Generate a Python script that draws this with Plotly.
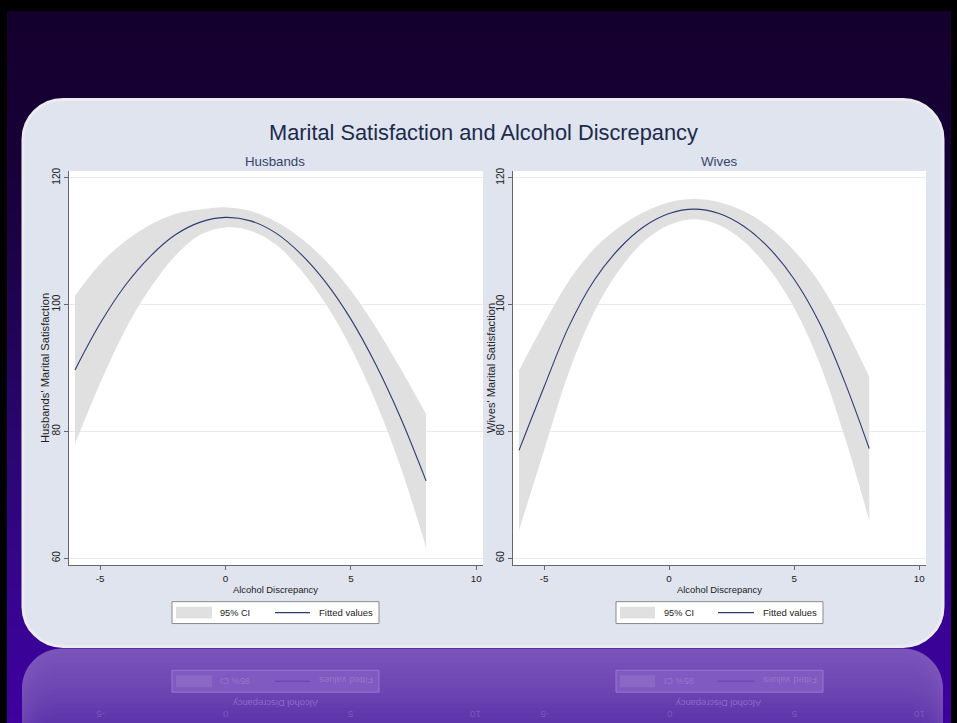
import plotly.graph_objects as go

W, H = 957, 723

# ---------------- data ----------------
x_disc = [-6, -5, -4, -3, -2, -1, 0, 1, 2, 3, 4, 5, 6, 7, 8]

husbands_fit = [89.7, 97.0, 103.0, 107.6, 111.0, 113.0, 113.75, 113.2, 111.3, 108.0, 103.5, 97.7, 90.5, 82.0, 72.2]
husbands_upper = [101.4, 106.4, 110.0, 112.6, 114.3, 115.0, 115.35, 114.75, 113.1, 110.5, 106.9, 102.2, 96.4, 89.8, 82.7]
husbands_lower = [78.0, 87.6, 96.0, 102.6, 107.7, 111.0, 112.15, 111.65, 109.5, 105.5, 100.1, 93.2, 84.6, 74.2, 61.7]

wives_fit = [77.0, 87.0, 96.6, 103.8, 108.8, 112.3, 114.35, 115.05, 114.35, 112.3, 108.9, 104.0, 97.2, 88.0, 77.3]
wives_upper = [89.6, 97.0, 103.8, 108.8, 112.2, 114.6, 116.15, 116.65, 116.15, 114.7, 112.2, 108.5, 103.5, 96.6, 88.6]
wives_lower = [64.4, 77.0, 89.4, 98.8, 105.4, 110.0, 112.55, 113.45, 112.55, 109.9, 105.6, 99.5, 90.9, 79.4, 66.0]

y_ticks = [60, 80, 100, 120]
x_ticks = [-5, 0, 5, 10]
x_tick_labels = ["-5", "0", "5", "10"]

main_title = "Marital Satisfaction and Alcohol Discrepancy"
panel_titles = ["Husbands", "Wives"]
y_titles = ["Husbands' Marital Satisfaction", "Wives' Marital Satisfaction"]
x_title = "Alcohol Discrepancy"
legend_labels = ["95% CI", "Fitted values"]

FONT = "Arial, Liberation Sans, sans-serif"
CI_COLOR = "#e0e0e0"
LINE_COLOR = "#2a3d72"


def px(x):
    return x / W


def py(y):
    return 1 - y / H


def rpath(x0, y0, x1, y1, r, bottom=True):
    k = 0.5523 * r

    def P(x, y):
        return f"{px(x):.5f},{py(y):.5f}"

    s = f"M{P(x0 + r, y0)} L{P(x1 - r, y0)} C{P(x1 - r + k, y0)} {P(x1, y0 + r - k)} {P(x1, y0 + r)} "
    if bottom:
        s += f"L{P(x1, y1 - r)} C{P(x1, y1 - r + k)} {P(x1 - r + k, y1)} {P(x1 - r, y1)} "
        s += f"L{P(x0 + r, y1)} C{P(x0 + r - k, y1)} {P(x0, y1 - r + k)} {P(x0, y1 - r)} "
    else:
        s += f"L{P(x1, y1)} L{P(x0, y1)} "
    s += f"L{P(x0, y0 + r)} C{P(x0, y0 + r - k)} {P(x0 + r - k, y0)} {P(x0 + r, y0)} Z"
    return s


def lerp_color(stops, y):
    for (y0, c0), (y1, c1) in zip(stops[:-1], stops[1:]):
        if y0 <= y <= y1:
            t = (y - y0) / (y1 - y0)
            c = [round(a + (b - a) * t) for a, b in zip(c0, c1)]
            return f"rgb({c[0]},{c[1]},{c[2]})"
    c = stops[-1][1]
    return f"rgb({c[0]},{c[1]},{c[2]})"


def note(x, y, text, size, color, angle=0):
    return dict(x=px(x), y=py(y), xref="paper", yref="paper", text=text,
                showarrow=False, xanchor="center", yanchor="middle", textangle=angle,
                font=dict(family=FONT, size=size, color=color))


shapes = []
# background gradient (dark purple slide)
bg_stops = [(0, (20, 0, 46)), (150, (23, 0, 54)), (300, (30, 3, 80)),
            (450, (42, 6, 115)), (600, (55, 4, 145)), (723, (62, 0, 158))]
y = 7
while y < H:
    shapes.append(dict(type="rect", xref="paper", yref="paper", layer="below",
                       x0=px(7), x1=px(951), y0=py(min(y + 11, H + 2)), y1=py(y),
                       fillcolor=lerp_color(bg_stops, y + 5), line=dict(width=0)))
    y += 10

# reflection (stacked rounded-top shapes for a gradient)
ref_stops = [(648, (122, 84, 186)), (690, (108, 68, 178)), (723, (92, 50, 168))]
for yy in range(648, 723, 5):
    shapes.append(dict(type="path", xref="paper", yref="paper", layer="below",
                       path=rpath(22, yy, 943, 735, 40, bottom=False),
                       fillcolor=lerp_color(ref_stops, yy), line=dict(width=0)))

# main rounded panel
shapes.append(dict(type="path", xref="paper", yref="paper", layer="below",
                   path=rpath(23, 96, 943, 646, 40),
                   fillcolor="#dfe4ee", line=dict(color="#ececf0", width=3)))

# white plot regions
for (x0, x1) in [(69, 483), (513, 926)]:
    shapes.append(dict(type="rect", xref="paper", yref="paper", layer="below",
                       x0=px(x0), x1=px(x1), y0=py(564), y1=py(168),
                       fillcolor="white", line=dict(width=0)))

annotations = []

# legends (drawn per panel) and their faint reflections
legend_geom = [
    dict(box=(172, 379), sw=(176, 212), ln=(275, 310), t1=235, t2=346),
    dict(box=(616, 823), sw=(620, 655), ln=(718, 754), t1=679, t2=790),
]
for g in legend_geom:
    shapes.append(dict(type="rect", xref="paper", yref="paper",
                       x0=px(g["box"][0]), x1=px(g["box"][1]), y0=py(623), y1=py(601),
                       fillcolor="white", line=dict(color="#8a8a8a", width=1)))
    shapes.append(dict(type="rect", xref="paper", yref="paper",
                       x0=px(g["sw"][0]), x1=px(g["sw"][1]), y0=py(618), y1=py(606),
                       fillcolor=CI_COLOR, line=dict(width=0)))
    shapes.append(dict(type="line", xref="paper", yref="paper",
                       x0=px(g["ln"][0]), x1=px(g["ln"][1]), y0=py(612), y1=py(612),
                       line=dict(color=LINE_COLOR, width=1.2)))
    annotations.append(note(g["t1"], 612, legend_labels[0], 9.2, "#222222"))
    annotations.append(note(g["t2"], 612, legend_labels[1], 9.5, "#222222"))
    # reflection
    shapes.append(dict(type="rect", xref="paper", yref="paper", layer="below",
                       x0=px(g["box"][0]), x1=px(g["box"][1]), y0=py(692), y1=py(670),
                       fillcolor="rgb(128,90,192)", line=dict(color="rgb(150,120,206)", width=1)))
    shapes.append(dict(type="rect", xref="paper", yref="paper", layer="below",
                       x0=px(g["sw"][0]), x1=px(g["sw"][1]), y0=py(687), y1=py(675),
                       fillcolor="rgb(138,104,198)", line=dict(width=0)))
    shapes.append(dict(type="line", xref="paper", yref="paper", layer="below",
                       x0=px(g["ln"][0]), x1=px(g["ln"][1]), y0=py(681), y1=py(681),
                       line=dict(color="rgb(100,66,170)", width=1.2)))
    annotations.append(note(g["t1"], 681, legend_labels[0], 9.2, "rgb(150,118,205)", 180))
    annotations.append(note(g["t2"], 681, legend_labels[1], 9.5, "rgb(150,118,205)", 180))

# faint reflected axis text
for cx, zero_px in [(275.5, 225.3), (719, 669.3)]:
    annotations.append(note(cx, 704, x_title, 9.4, "rgb(140,108,200)", 180))
    for t, lab in zip(x_ticks, x_tick_labels):
        annotations.append(note(zero_px + t * 25.07, 715, lab, 9.8, "rgb(120,88,190)", 180))

# titles
annotations.append(note(483.5, 129, main_title, 21.8, "#1c2a4c"))
for cx, t in zip([275, 719], panel_titles):
    annotations.append(note(cx, 158, t, 13.3, "#34446a"))
for cx in [275.5, 719]:
    annotations.append(note(cx, 589, x_title, 9.4, "#222222"))
for cx, t in zip([45, 491], y_titles):
    annotations.append(note(cx, 366, t, 11.2, "#222222", -90))

fig = go.Figure()

for i, (fit, up, lo) in enumerate([(husbands_fit, husbands_upper, husbands_lower),
                                    (wives_fit, wives_upper, wives_lower)]):
    xa = "x" if i == 0 else "x2"
    ya = "y" if i == 0 else "y2"
    fig.add_trace(go.Scatter(x=x_disc, y=lo, xaxis=xa, yaxis=ya, mode="lines",
                             line=dict(width=0, shape="spline", smoothing=1.0),
                             showlegend=False, hoverinfo="skip", name=legend_labels[0]))
    fig.add_trace(go.Scatter(x=x_disc, y=up, xaxis=xa, yaxis=ya, mode="lines",
                             fill="tonexty", fillcolor=CI_COLOR,
                             line=dict(width=0, shape="spline", smoothing=1.0),
                             showlegend=False, name=legend_labels[0]))
    fig.add_trace(go.Scatter(x=x_disc, y=fit, xaxis=xa, yaxis=ya, mode="lines",
                             line=dict(color=LINE_COLOR, width=1.1, shape="spline", smoothing=1.0),
                             showlegend=False, name=legend_labels[1]))

xaxis_common = dict(range=[-6.24, 10.27], tickvals=x_ticks, ticktext=x_tick_labels,
                    ticks="outside", ticklen=4,
                    tickcolor="#666666", showline=True, linecolor="#666666", linewidth=1,
                    showgrid=False, zeroline=False,
                    tickfont=dict(family=FONT, size=9.8, color="#222222"))
yaxis_common = dict(range=[58.95, 121.05], tickvals=y_ticks, ticks="outside", ticklen=4,
                    tickcolor="#666666", showline=True, linecolor="#666666", linewidth=1,
                    showgrid=True, gridcolor="#e6eaf2", gridwidth=1, zeroline=False,
                    tickangle=-90,
                    tickfont=dict(family=FONT, size=10.2, color="#222222"))

fig.update_layout(
    width=W, height=H,
    margin=dict(l=0, r=0, t=0, b=0),
    paper_bgcolor="black",
    plot_bgcolor="white",
    showlegend=False,
    xaxis=dict(domain=[px(69), px(483)], anchor="y", **xaxis_common),
    yaxis=dict(domain=[py(564), py(168)], anchor="x", **yaxis_common),
    xaxis2=dict(domain=[px(513), px(926)], anchor="y2", **xaxis_common),
    yaxis2=dict(domain=[py(564), py(168)], anchor="x2", **yaxis_common),
    shapes=shapes,
    annotations=annotations,
)

fig.write_html("out.html", config={"displayModeBar": False},
               post_script="document.body.style.margin='0';document.body.style.overflow='hidden';")
